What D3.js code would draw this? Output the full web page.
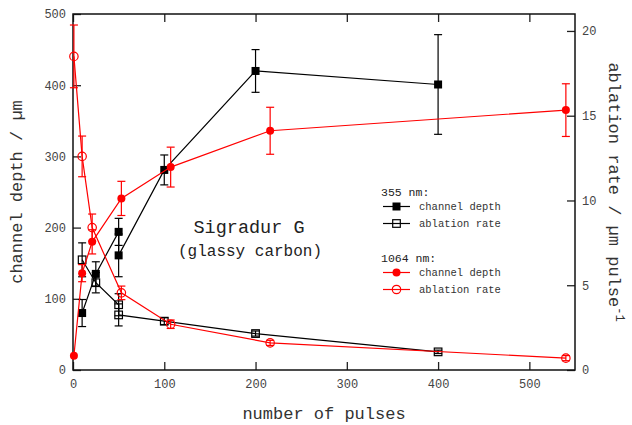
<!DOCTYPE html>
<html>
<head>
<meta charset="utf-8">
<script src="https://cdn.jsdelivr.net/npm/d3@7"></script>
<style>
  body { margin: 0; background: #fff; }
  text { font-family: "Liberation Mono", "DejaVu Sans Mono", monospace; }
</style>
</head>
<body>
<div id="chart"></div>
<script>
// 355 nm data (black)
const pulses355 = [10, 25, 50, 50, 100, 200, 400]
const depth355 = [80, 135, 194, 161, 281, 420, 401]
const depth355Err = [19, 17, 19, 30, 21, 30, 70]
const rate355 = [6.5, 5.15, 3.85, 3.25, 2.88, 2.15, 1.07]
const rate355Err = [1.0, 0.6, 0.65, 0.65, 0.2, 0.15, 0.1]

// 1064 nm data (red)
const pulses1064 = [1, 10, 21, 53, 107, 216, 540]
const depth1064 = [20, 136, 180, 241, 285, 336, 365]
const depth1064Err = [0, 12, 17, 24, 28, 33, 37]
const rate1064 = [18.5, 12.6, 8.4, 4.55, 2.7, 1.6, 0.7]
const rate1064Err = [1.85, 1.2, 0.8, 0.4, 0.25, 0.15, 0.15]

const xTicks = [0, 100, 200, 300, 400, 500]
const yLeftTicks = [0, 100, 200, 300, 400, 500]
const yRightTicks = [0, 5, 10, 15, 20]

const W = 632, H = 425
const m = { left: 73, right: 57, top: 14, bottom: 55 }

const svg = d3.select("#chart").append("svg").attr("width", W).attr("height", H)

const x = d3.scaleLinear().domain([0, 550]).range([m.left, W - m.right])
const yL = d3.scaleLinear().domain([0, 500]).range([H - m.bottom, m.top])
const yR = d3.scaleLinear().domain([0, 21]).range([H - m.bottom, m.top])

// axes, ticks point inwards
const axStyle = g => {
  g.select(".domain").remove()
  g.selectAll(".tick line").attr("stroke", "#222").attr("stroke-width", 1.3)
  g.selectAll(".tick text").attr("fill", "#444").style("font-size", "12px")
    .style("font-family", "'Liberation Mono', monospace")
}
svg.append("g").attr("transform", `translate(0,${H - m.bottom})`)
  .call(d3.axisBottom(x).tickValues(xTicks).tickSize(-8).tickPadding(9)).call(axStyle)
svg.append("g").attr("transform", `translate(0,${m.top})`)
  .call(d3.axisTop(x).tickValues(xTicks).tickSize(-8).tickFormat("")).call(axStyle)
svg.append("g").attr("transform", `translate(${m.left},0)`)
  .call(d3.axisLeft(yL).tickValues(yLeftTicks).tickSize(-8).tickPadding(7)).call(axStyle)
svg.append("g").attr("transform", `translate(${W - m.right},0)`)
  .call(d3.axisRight(yR).tickValues(yRightTicks).tickSize(-8).tickPadding(7)).call(axStyle)

// frame
svg.append("rect").attr("x", m.left).attr("y", m.top)
  .attr("width", W - m.left - m.right).attr("height", H - m.top - m.bottom)
  .attr("fill", "none").attr("stroke", "#111").attr("stroke-width", 1.5)

// axis titles
svg.append("text").attr("x", x(275)).attr("y", 419).attr("text-anchor", "middle")
  .style("font-size", "17px").attr("fill", "#333").text("number of pulses")
svg.append("text").attr("transform", `translate(22,${yL(250)}) rotate(-90)`)
  .attr("text-anchor", "middle").style("font-size", "17px").attr("fill", "#333")
  .text("channel depth / µm")
const rt = svg.append("text").attr("transform", `translate(609,${yR(10.5)}) rotate(90)`)
  .attr("text-anchor", "middle").style("font-size", "17px").attr("fill", "#333")
rt.append("tspan").text("ablation rate / µm pulse")
rt.append("tspan").attr("dy", -7).style("font-size", "12px").text("-1")

// series drawing
function drawSeries(xs, ys, errs, scale, color, marker) {
  const g = svg.append("g")
  const pts = xs.map((d, i) => ({ x: d, y: ys[i], e: errs[i] }))
  g.append("path").datum(pts)
    .attr("d", d3.line().x(d => x(d.x)).y(d => scale(d.y)))
    .attr("fill", "none").attr("stroke", color).attr("stroke-width", 1.2)
  const eb = g.selectAll(".eb").data(pts.filter(d => d.e > 0)).enter().append("g")
  eb.append("line").attr("x1", d => x(d.x)).attr("x2", d => x(d.x))
    .attr("y1", d => scale(d.y - d.e)).attr("y2", d => scale(d.y + d.e))
    .attr("stroke", color).attr("stroke-width", 1.2)
  eb.append("line").attr("x1", d => x(d.x) - 4).attr("x2", d => x(d.x) + 4)
    .attr("y1", d => scale(d.y - d.e)).attr("y2", d => scale(d.y - d.e))
    .attr("stroke", color).attr("stroke-width", 1.2)
  eb.append("line").attr("x1", d => x(d.x) - 4).attr("x2", d => x(d.x) + 4)
    .attr("y1", d => scale(d.y + d.e)).attr("y2", d => scale(d.y + d.e))
    .attr("stroke", color).attr("stroke-width", 1.2)
  pts.forEach(d => marker(g, x(d.x), scale(d.y), color))
}

const filledSquare = (g, cx, cy, c) => g.append("rect").attr("x", cx - 4).attr("y", cy - 4)
  .attr("width", 8).attr("height", 8).attr("fill", c)
const openSquare = (g, cx, cy, c) => g.append("rect").attr("x", cx - 3.8).attr("y", cy - 3.8)
  .attr("width", 7.6).attr("height", 7.6).attr("fill", "none").attr("stroke", c).attr("stroke-width", 1.2)
const filledCircle = (g, cx, cy, c) => g.append("circle").attr("cx", cx).attr("cy", cy)
  .attr("r", 4).attr("fill", c)
const openCircle = (g, cx, cy, c) => g.append("circle").attr("cx", cx).attr("cy", cy)
  .attr("r", 4.2).attr("fill", "none").attr("stroke", c).attr("stroke-width", 1.2)

drawSeries(pulses355, depth355, depth355Err, yL, "#000", filledSquare)
drawSeries(pulses355, rate355, rate355Err, yR, "#000", openSquare)
drawSeries(pulses1064, depth1064, depth1064Err, yL, "#ff0000", filledCircle)
drawSeries(pulses1064, rate1064, rate1064Err, yR, "#ff0000", openCircle)

// annotation
svg.append("text").attr("x", 249).attr("y", 233).attr("text-anchor", "middle")
  .style("font-size", "18.5px").attr("fill", "#222").text("Sigradur G")
svg.append("text").attr("x", 250).attr("y", 256).attr("text-anchor", "middle")
  .style("font-size", "16px").attr("fill", "#222").text("(glassy carbon)")

// legend
const legend = [
  { head: "355 nm:", y: 192, color: "#000", items: [["channel depth", filledSquare], ["ablation rate", openSquare]] },
  { head: "1064 nm:", y: 258, color: "#ff0000", items: [["channel depth", filledCircle], ["ablation rate", openCircle]] }
]
legend.forEach(grp => {
  svg.append("text").attr("x", 381).attr("y", grp.y + 4).style("font-size", "11.5px")
    .attr("fill", "#222").text(grp.head)
  grp.items.forEach((it, i) => {
    const yy = grp.y + 14.5 + i * 17
    svg.append("line").attr("x1", 383).attr("x2", 410).attr("y1", yy).attr("y2", yy)
      .attr("stroke", grp.color).attr("stroke-width", 1.2)
    it[1](svg, 396.5, yy, grp.color)
    svg.append("text").attr("x", 419).attr("y", yy + 3.5).style("font-size", "10.5px")
      .attr("fill", "#333").text(it[0])
  })
})
</script>
</body>
</html>
